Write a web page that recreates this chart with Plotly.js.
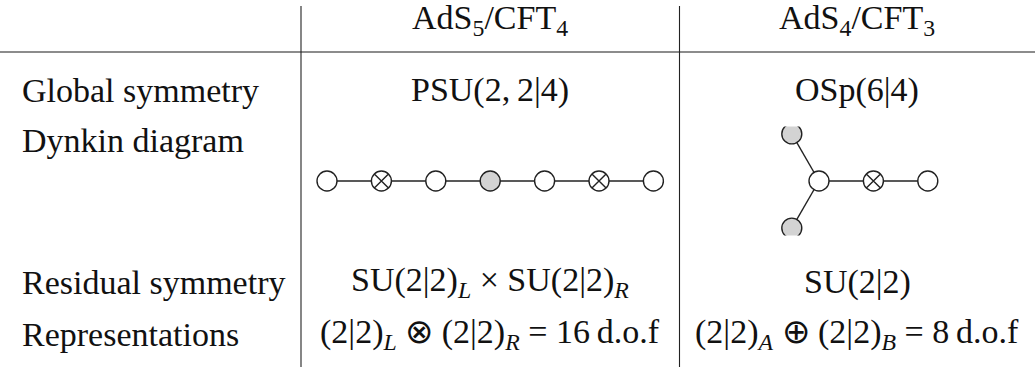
<!DOCTYPE html>
<html>
<head>
<meta charset="utf-8">
<script src="https://cdn.plot.ly/plotly-3.0.1.min.js"></script>
<style>
  html, body { margin: 0; padding: 0; background: #fff; }
  #chart { width: 1035px; height: 367px; }
</style>
</head>
<body>
<div id="chart"></div>
<script>
// table contents
const colHeaders = ['AdS<sub>5</sub>/CFT<sub>4</sub>', 'AdS<sub>4</sub>/CFT<sub>3</sub>'];
const rowLabels = ['Global symmetry', 'Dynkin diagram', 'Residual symmetry', 'Representations'];
const ads5Cells = [
    'PSU(2,\u20092|4)',
    '',
    'SU(2|2)<sub><i>L</i></sub> \u00d7 SU(2|2)<sub><i>R</i></sub>',
    '(2|2)<sub><i>L</i></sub> \u2297 (2|2)<sub><i>R</i></sub> = 16\u2009d.o.f'
];
const ads4Cells = [
    'OSp(6|4)',
    '',
    'SU(2|2)',
    '(2|2)<sub><i>A</i></sub> \u2295 (2|2)<sub><i>B</i></sub> = 8\u2009d.o.f'
];

// Dynkin diagrams: o = plain node, x = crossed node, g = grey node
const chainNodes = ['o', 'x', 'o', 'g', 'o', 'x', 'o'];
const forkX = [0, 1, 2, -0.5, -0.5];
const forkY = [0, 0, 0, 0.866, -0.866];
const forkNodes = ['o', 'x', 'o', 'g', 'g'];
const forkEdges = [[0, 1], [1, 2], [0, 3], [0, 4]];

// page geometry (pixels)
const W = 1035, H = 367;
const colEdges = [0, 301, 679.5, W];
const ruleY = 52;
const headerY = 20;
const rowY = [90, 140, 282, 334];
const labelX = 20;
const unit = 54.4;          // node spacing
const diagramY = 181;       // node centre line
const chainLeft = 327;
const forkCentre = 819;

const ink = '#222';
const font = { family: 'Liberation Serif, Times New Roman, serif', size: 34, color: '#111' };

function px(x) { return x / W; }
function py(y) { return 1 - y / H; }

function markerFor(types) {
    return {
        symbol: types.map(t => t === 'x' ? 'circle-x' : 'circle'),
        color: types.map(t => t === 'g' ? '#d3d3d3' : '#ffffff'),
        size: 20,
        line: { color: ink, width: 1.4 }
    };
}

function buildTraces() {
    const chainX = chainNodes.map((_, i) => i);
    const chainY = chainNodes.map(() => 0);

    let edgeX = [], edgeY = [];
    forkEdges.forEach(e => {
        edgeX.push(forkX[e[0]], forkX[e[1]], null);
        edgeY.push(forkY[e[0]], forkY[e[1]], null);
    });

    return [
        { x: chainX, y: chainY, xaxis: 'x2', yaxis: 'y2', mode: 'lines', line: { color: ink, width: 1.4 }, hoverinfo: 'skip' },
        { x: chainX, y: chainY, xaxis: 'x2', yaxis: 'y2', mode: 'markers', marker: markerFor(chainNodes), hoverinfo: 'skip' },
        { x: edgeX, y: edgeY, xaxis: 'x3', yaxis: 'y3', mode: 'lines', line: { color: ink, width: 1.4 }, hoverinfo: 'skip' },
        { x: forkX, y: forkY, xaxis: 'x3', yaxis: 'y3', mode: 'markers', marker: markerFor(forkNodes), hoverinfo: 'skip' }
    ];
}

function buildAnnotations() {
    let ann = [];
    const centres = [(colEdges[1] + colEdges[2]) / 2, (colEdges[2] + colEdges[3]) / 2];

    colHeaders.forEach((t, i) => {
        ann.push({ text: t, x: px(centres[i]), y: py(headerY), xanchor: 'center' });
    });
    rowLabels.forEach((t, r) => {
        ann.push({ text: t, x: px(labelX), y: py(rowY[r]), xanchor: 'left' });
        [ads5Cells, ads4Cells].forEach((cells, c) => {
            if (cells[r]) ann.push({ text: cells[r], x: px(centres[c]), y: py(rowY[r]), xanchor: 'center' });
        });
    });

    return ann.map(a => Object.assign(a, {
        xref: 'paper', yref: 'paper', yanchor: 'middle', showarrow: false, font: font
    }));
}

function buildShapes() {
    const rule = { color: '#666', width: 1.3 };
    const sep = { color: '#222', width: 1.1 };
    return [
        { type: 'line', xref: 'paper', yref: 'paper', x0: 0, x1: 1, y0: py(ruleY), y1: py(ruleY), line: rule },
        { type: 'line', xref: 'paper', yref: 'paper', x0: px(colEdges[1]), x1: px(colEdges[1]), y0: py(6), y1: 0, line: sep },
        { type: 'line', xref: 'paper', yref: 'paper', x0: px(colEdges[2]), x1: px(colEdges[2]), y0: py(6), y1: 0, line: sep }
    ];
}

// axis domain so that one data unit = `unit` pixels
function xDomain(left, lo, hi) { return [px(left + lo * unit), px(left + hi * unit)]; }
function yDomain(centre, half) { return [py(centre + half * unit), py(centre - half * unit)]; }

const hidden = { visible: false, fixedrange: true };

const layout = {
    width: W,
    height: H,
    margin: { l: 0, r: 0, t: 0, b: 0 },
    paper_bgcolor: '#fff',
    plot_bgcolor: 'rgba(0,0,0,0)',
    showlegend: false,
    xaxis2: Object.assign({ domain: xDomain(chainLeft, -0.5, 6.5), range: [-0.5, 6.5], anchor: 'y2' }, hidden),
    yaxis2: Object.assign({ domain: yDomain(diagramY, 1), range: [-1, 1], anchor: 'x2' }, hidden),
    xaxis3: Object.assign({ domain: xDomain(forkCentre, -1, 3), range: [-1, 3], anchor: 'y3' }, hidden),
    yaxis3: Object.assign({ domain: yDomain(diagramY, 1), range: [-1, 1], anchor: 'x3' }, hidden),
    annotations: buildAnnotations(),
    shapes: buildShapes()
};

Plotly.newPlot('chart', buildTraces(), layout, { staticPlot: true, displayModeBar: false });
</script>
</body>
</html>
